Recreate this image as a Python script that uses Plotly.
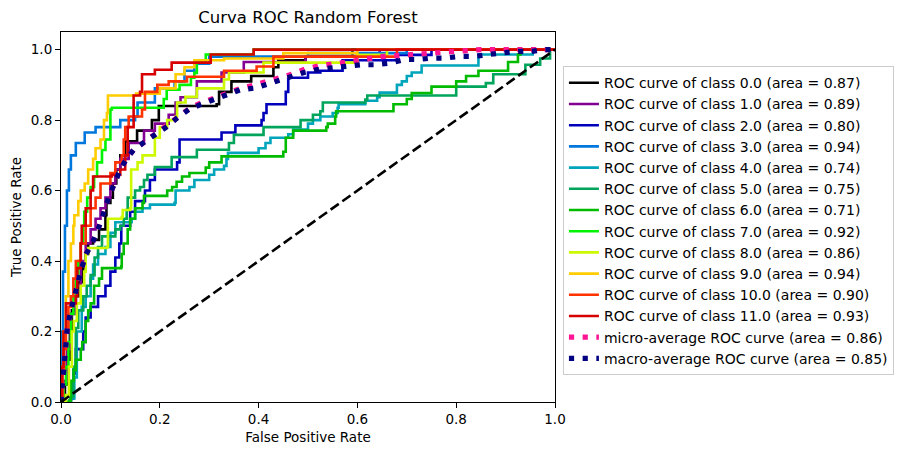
import plotly.graph_objects as go

# ROC step curves (fpr, tpr pairs; tpr is the value reached at that fpr)
fpr_c0 = [0, 0.008, 0.012, 0.018, 0.022, 0.03, 0.035, 0.045, 0.05, 0.055, 0.065, 0.077, 0.09, 0.092, 0.1, 0.105, 0.112, 0.12, 0.13, 0.154, 0.184, 0.198, 0.315, 0.32, 0.345, 0.385, 0.43, 0.44, 0.495, 0.59, 1]
tpr_c0 = [0, 0.05, 0.12, 0.2, 0.26, 0.3, 0.34, 0.38, 0.42, 0.45, 0.46, 0.49, 0.53, 0.565, 0.58, 0.62, 0.66, 0.70, 0.74, 0.77, 0.80, 0.84, 0.845, 0.88, 0.91, 0.925, 0.95, 0.97, 0.98, 1.0, 1.0]

fpr_c1 = [0, 0.005, 0.012, 0.02, 0.03, 0.04, 0.05, 0.06, 0.07, 0.08, 0.09, 0.1, 0.11, 0.12, 0.137, 0.168, 0.19, 0.218, 0.232, 0.242, 0.275, 0.325, 0.37, 0.495, 0.645, 1]
tpr_c1 = [0, 0.06, 0.15, 0.25, 0.33, 0.40, 0.45, 0.49, 0.52, 0.55, 0.58, 0.62, 0.66, 0.69, 0.735, 0.77, 0.79, 0.815, 0.85, 0.865, 0.91, 0.935, 0.965, 0.98, 1.0, 1.0]

fpr_c2 = [0, 0.02, 0.025, 0.03, 0.045, 0.05, 0.06, 0.075, 0.09, 0.1, 0.11, 0.118, 0.122, 0.14, 0.15, 0.17, 0.18, 0.19, 0.235, 0.24, 0.325, 0.353, 0.406, 0.41, 0.416, 0.455, 0.46, 0.5, 0.525, 0.57, 0.68, 0.75, 1]
tpr_c2 = [0, 0.01, 0.08, 0.15, 0.2, 0.24, 0.27, 0.3, 0.33, 0.37, 0.41, 0.45, 0.5, 0.54, 0.57, 0.6, 0.63, 0.66, 0.68, 0.745, 0.765, 0.785, 0.80, 0.82, 0.845, 0.88, 0.92, 0.935, 0.94, 0.97, 0.985, 1.0, 1.0]

fpr_c3 = [0, 0.002, 0.004, 0.008, 0.012, 0.016, 0.02, 0.03, 0.048, 0.07, 0.12, 0.15, 0.155, 0.19, 0.23, 0.25, 0.27, 0.3, 0.5, 0.7, 1]
tpr_c3 = [0, 0.2, 0.37, 0.5, 0.6, 0.66, 0.70, 0.735, 0.765, 0.78, 0.80, 0.81, 0.85, 0.89, 0.91, 0.94, 0.96, 0.98, 0.99, 1.0, 1.0]

fpr_c4 = [0, 0.02, 0.027, 0.032, 0.042, 0.05, 0.06, 0.065, 0.075, 0.09, 0.1, 0.11, 0.143, 0.15, 0.165, 0.18, 0.23, 0.232, 0.26, 0.27, 0.3, 0.31, 0.33, 0.335, 0.338, 0.40, 0.414, 0.424, 0.46, 0.47, 0.5, 0.51, 0.525, 0.55, 0.56, 0.562, 0.616, 0.64, 0.645, 0.68, 0.69, 0.70, 0.71, 0.73, 0.845, 0.955, 1]
tpr_c4 = [0, 0.01, 0.07, 0.2, 0.27, 0.3, 0.35, 0.39, 0.42, 0.44, 0.48, 0.51, 0.52, 0.54, 0.55, 0.56, 0.565, 0.60, 0.61, 0.63, 0.645, 0.66, 0.67, 0.69, 0.707, 0.72, 0.735, 0.75, 0.76, 0.773, 0.79, 0.80, 0.81, 0.82, 0.835, 0.845, 0.855, 0.865, 0.878, 0.9, 0.91, 0.925, 0.935, 0.955, 0.986, 1.0, 1.0]

fpr_c5 = [0, 0.02, 0.025, 0.03, 0.035, 0.045, 0.052, 0.06, 0.068, 0.075, 0.083, 0.11, 0.12, 0.127, 0.133, 0.135, 0.15, 0.16, 0.168, 0.175, 0.19, 0.224, 0.275, 0.34, 0.35, 0.41, 0.485, 0.51, 0.525, 0.53, 0.616, 0.62, 0.80, 0.86, 0.875, 0.94, 0.97, 0.99, 1]
tpr_c5 = [0, 0.015, 0.1, 0.21, 0.26, 0.30, 0.33, 0.36, 0.41, 0.44, 0.47, 0.49, 0.5, 0.52, 0.545, 0.58, 0.60, 0.61, 0.63, 0.645, 0.667, 0.695, 0.716, 0.735, 0.758, 0.78, 0.80, 0.815, 0.825, 0.85, 0.858, 0.87, 0.895, 0.905, 0.93, 0.957, 0.975, 1.0, 1.0]

fpr_c6 = [0, 0.017, 0.02, 0.026, 0.03, 0.04, 0.043, 0.05, 0.055, 0.06, 0.067, 0.077, 0.083, 0.122, 0.123, 0.127, 0.135, 0.14, 0.15, 0.165, 0.168, 0.215, 0.225, 0.234, 0.245, 0.26, 0.293, 0.30, 0.325, 0.45, 0.455, 0.47, 0.537, 0.54, 0.555, 0.557, 0.673, 0.70, 0.71, 0.75, 0.80, 0.82, 0.845, 0.905, 0.925, 0.93, 1]
tpr_c6 = [0, 0.005, 0.06, 0.09, 0.12, 0.15, 0.17, 0.23, 0.26, 0.28, 0.33, 0.35, 0.38, 0.385, 0.42, 0.45, 0.49, 0.52, 0.55, 0.565, 0.585, 0.6, 0.61, 0.625, 0.64, 0.65, 0.665, 0.68, 0.697, 0.71, 0.75, 0.77, 0.78, 0.79, 0.81, 0.825, 0.845, 0.86, 0.877, 0.895, 0.91, 0.925, 0.94, 0.965, 0.986, 1.0, 1.0]

fpr_c7 = [0, 0.005, 0.01, 0.015, 0.02, 0.025, 0.03, 0.035, 0.04, 0.045, 0.047, 0.053, 0.06, 0.067, 0.073, 0.083, 0.09, 0.1, 0.103, 0.208, 0.214, 0.24, 0.263, 0.27, 0.275, 0.293, 0.39, 1]
tpr_c7 = [0, 0.05, 0.1, 0.17, 0.25, 0.3, 0.35, 0.4, 0.45, 0.5, 0.54, 0.58, 0.61, 0.64, 0.68, 0.715, 0.745, 0.83, 0.835, 0.86, 0.886, 0.9, 0.92, 0.934, 0.963, 0.986, 1.0, 1.0]

fpr_c8 = [0, 0.01, 0.016, 0.022, 0.026, 0.032, 0.04, 0.047, 0.05, 0.055, 0.093, 0.095, 0.123, 0.125, 0.14, 0.142, 0.155, 0.165, 0.19, 0.2, 0.215, 0.232, 0.235, 0.252, 0.275, 0.33, 0.34, 0.41, 0.6, 0.66, 1]
tpr_c8 = [0, 0.02, 0.1, 0.2, 0.23, 0.28, 0.33, 0.37, 0.42, 0.437, 0.44, 0.52, 0.525, 0.545, 0.55, 0.66, 0.68, 0.70, 0.75, 0.78, 0.80, 0.81, 0.85, 0.866, 0.89, 0.915, 0.935, 0.963, 0.985, 1.0, 1.0]

fpr_c9 = [0, 0.002, 0.005, 0.01, 0.015, 0.02, 0.025, 0.027, 0.035, 0.04, 0.048, 0.055, 0.065, 0.07, 0.08, 0.087, 0.093, 0.095, 0.152, 0.2, 0.232, 0.25, 0.27, 0.33, 0.45, 0.6, 1]
tpr_c9 = [0, 0.1, 0.2, 0.3, 0.4, 0.45, 0.5, 0.53, 0.57, 0.6, 0.62, 0.66, 0.69, 0.72, 0.745, 0.8, 0.82, 0.87, 0.875, 0.89, 0.93, 0.95, 0.97, 0.975, 0.99, 1.0, 1.0]

fpr_c10 = [0, 0.003, 0.006, 0.01, 0.015, 0.02, 0.025, 0.03, 0.04, 0.05, 0.06, 0.07, 0.08, 0.1, 0.11, 0.123, 0.127, 0.13, 0.137, 0.164, 0.17, 0.195, 0.218, 0.255, 0.33, 0.396, 0.43, 0.68, 1]
tpr_c10 = [0, 0.08, 0.15, 0.2, 0.27, 0.3, 0.35, 0.4, 0.45, 0.5, 0.55, 0.58, 0.62, 0.65, 0.68, 0.70, 0.745, 0.78, 0.81, 0.83, 0.88, 0.90, 0.91, 0.923, 0.94, 0.952, 0.98, 1.0, 1.0]

fpr_c11 = [0, 0.002, 0.005, 0.01, 0.03, 0.033, 0.04, 0.042, 0.05, 0.06, 0.065, 0.103, 0.12, 0.13, 0.135, 0.147, 0.16, 0.164, 0.19, 0.224, 0.303, 0.39, 1]
tpr_c11 = [0, 0.1, 0.2, 0.28, 0.3, 0.38, 0.45, 0.5, 0.55, 0.6, 0.64, 0.645, 0.66, 0.7, 0.78, 0.87, 0.88, 0.93, 0.943, 0.963, 0.986, 1.0, 1.0]

fpr_micro = [0, 0.003, 0.006, 0.01, 0.013, 0.02, 0.03, 0.04, 0.05, 0.063, 0.077, 0.087, 0.097, 0.107, 0.117, 0.131, 0.147, 0.171, 0.191, 0.215, 0.235, 0.259, 0.282, 0.309, 0.336, 0.363, 0.393, 0.434, 0.467, 0.494, 0.525, 0.555, 0.6, 0.65, 0.7, 0.75, 0.8, 0.85, 1]
tpr_micro = [0, 0.05, 0.1, 0.16, 0.21, 0.26, 0.32, 0.37, 0.42, 0.45, 0.5, 0.545, 0.583, 0.616, 0.65, 0.687, 0.716, 0.74, 0.76, 0.785, 0.808, 0.832, 0.848, 0.862, 0.876, 0.89, 0.9, 0.915, 0.93, 0.945, 0.955, 0.96, 0.97, 0.98, 0.985, 0.99, 0.995, 1.0, 1.0]

fpr_macro = [0, 0.003, 0.006, 0.01, 0.013, 0.02, 0.03, 0.04, 0.05, 0.063, 0.077, 0.087, 0.097, 0.107, 0.117, 0.131, 0.147, 0.171, 0.191, 0.215, 0.235, 0.259, 0.282, 0.309, 0.336, 0.363, 0.393, 0.434, 0.467, 0.494, 0.525, 0.555, 0.582, 0.608, 0.636, 0.666, 0.696, 0.723, 0.75, 0.777, 0.807, 0.838, 0.865, 0.895, 0.922, 0.952, 0.979, 1]
tpr_macro = [0, 0.043, 0.1, 0.157, 0.214, 0.26, 0.323, 0.37, 0.418, 0.45, 0.498, 0.545, 0.583, 0.616, 0.65, 0.687, 0.716, 0.74, 0.759, 0.782, 0.806, 0.83, 0.844, 0.858, 0.872, 0.886, 0.891, 0.91, 0.924, 0.936, 0.945, 0.95, 0.954, 0.957, 0.957, 0.962, 0.972, 0.972, 0.976, 0.976, 0.981, 0.981, 0.986, 0.99, 0.995, 0.995, 1.0, 1.0]

class_names = ["0.0", "1.0", "2.0", "3.0", "4.0", "5.0", "6.0", "7.0", "8.0", "9.0", "10.0", "11.0"]
class_auc = [0.87, 0.89, 0.80, 0.94, 0.74, 0.75, 0.71, 0.92, 0.86, 0.94, 0.90, 0.93]
micro_auc = 0.86
macro_auc = 0.85

# nipy_spectral colours, as scikit-plot picks them for 12 classes
CLASS_COLORS = ["#000000", "#820093", "#0000bb", "#0077dd", "#00a4bb", "#00a45b",
                "#00bb00", "#00f300", "#ccf900", "#ffcc00", "#ff3300", "#d70000"]

fprs = [fpr_c0, fpr_c1, fpr_c2, fpr_c3, fpr_c4, fpr_c5, fpr_c6, fpr_c7, fpr_c8, fpr_c9, fpr_c10, fpr_c11]
tprs = [tpr_c0, tpr_c1, tpr_c2, tpr_c3, tpr_c4, tpr_c5, tpr_c6, tpr_c7, tpr_c8, tpr_c9, tpr_c10, tpr_c11]

fig = go.Figure()
for i, name in enumerate(class_names):
    fig.add_trace(go.Scatter(x=fprs[i], y=tprs[i], mode="lines", line_shape="hv",
                             line=dict(color=CLASS_COLORS[i], width=2.6),
                             name=f"ROC curve of class {name} (area = {class_auc[i]:.2f})"))

# lw=4 dotted lines, matplotlib ':' pattern
fig.add_trace(go.Scatter(x=fpr_micro, y=tpr_micro, mode="lines",
                         line=dict(color="deeppink", width=5.2, dash="5.2px,8.5px"),
                         name=f"micro-average ROC curve (area = {micro_auc:.2f})"))
fig.add_trace(go.Scatter(x=fpr_macro, y=tpr_macro, mode="lines",
                         line=dict(color="navy", width=5.2, dash="5.2px,8.5px"),
                         name=f"macro-average ROC curve (area = {macro_auc:.2f})"))
fig.add_trace(go.Scatter(x=[0, 1], y=[0, 1], mode="lines", showlegend=False,
                         line=dict(color="black", width=2.6, dash="10px,4.4px")))

axis_style = dict(showline=True, mirror=True, linecolor="black", linewidth=1.1,
                  ticks="outside", ticklen=5, tickcolor="black", showgrid=False,
                  zeroline=False, tickformat=".1f", automargin=False,
                  tickfont=dict(size=13.5, color="black"))

fig.update_xaxes(range=[0, 1], dtick=0.2, title_text="False Positive Rate",
                 title_font=dict(size=13.5, color="black"), title_standoff=6, **axis_style)
fig.update_yaxes(range=[0, 1.05], tick0=0, dtick=0.2, title_text="True Positive Rate",
                 title_font=dict(size=13.5, color="black"), title_standoff=8, **axis_style)

# the page body adds an 8px margin, so the figure is 8px smaller and shifted accordingly
fig.update_layout(
    width=897, height=447,
    margin=dict(l=53, r=349, t=24, b=53),
    paper_bgcolor="white", plot_bgcolor="white",
    font=dict(family="DejaVu Sans", color="black"),
    title=dict(text="Curva ROC Random Forest", x=0.5, xref="paper", xanchor="center",
               y=1 - 9 / 447, yref="container", yanchor="middle",
               font=dict(size=16.5, color="black")),
    legend=dict(x=1.014, xanchor="left", y=0.49, yanchor="middle",
                bgcolor="white", bordercolor="#cccccc", borderwidth=1,
                font=dict(size=14, color="black"), itemwidth=30),
)

fig.write_html("out.html")
